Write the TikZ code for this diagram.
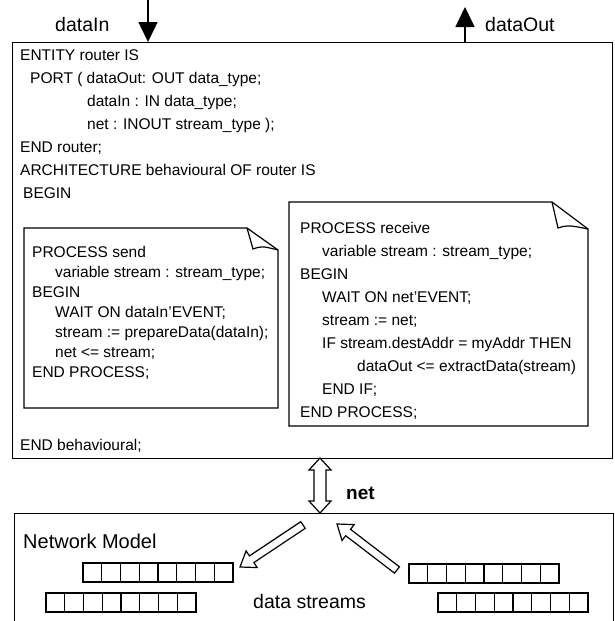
\documentclass[tikz,border=0pt]{standalone}
\usepackage{fontspec}
\setmainfont{Liberation Sans}
\usetikzlibrary{calc,arrows.meta}
\newcommand\blockarrow[3]{% #1 tail, #2 tip, #3 style
  \draw[#3] ($(#1)!4pt!90:(#2)$) -- ($($(#2)!14pt!(#1)$)!4pt!-90:(#1)$) -- ($($(#2)!14pt!(#1)$)!10pt!-90:(#1)$) -- (#2)
    -- ($($(#2)!14pt!(#1)$)!10pt!90:(#1)$) -- ($($(#2)!14pt!(#1)$)!4pt!90:(#1)$) -- ($(#1)!4pt!-90:(#2)$) -- cycle;}
\newcommand\streamrow[2]{%
  \foreach \i in {0,...,7} \draw[cell] ({#1+\i*18.75},#2) rectangle ++(18.75,19);}
\begin{document}
\begin{tikzpicture}[x=1pt,y=-1pt,
  code/.style={anchor=base west, inner sep=0, font=\fontsize{15.5}{18}\selectfont},
  lbl/.style={anchor=base west, inner sep=0, font=\fontsize{19.5}{23}\selectfont},
  box/.style={draw, line width=1pt},
  note/.style={draw, line width=1.2pt, line join=miter},
  cell/.style={draw, line width=1.2pt},
  blk/.style={draw, line width=1.2pt, fill=white, line join=miter},
  sig/.style={-{Triangle[length=20pt,width=19pt]}, line width=1.5pt}]
\useasboundingbox (0,0) rectangle (614,621);

% main entity box
\node[box, anchor=north west, minimum width=600pt, minimum height=416pt, inner sep=0] (entity) at (12,42) {};

% signals
\coordinate (inS) at (148,0);
\coordinate (outE) at (465,7);
\draw[sig] (inS) -- (inS |- entity.north);
\draw[sig] (outE |- entity.north) -- (outE);
\node[lbl] (lin) at (55,31) {dataIn};
\node[lbl] (lout) at (485,31) {dataOut};

% entity text
\node[code] (t1) at (20,60) {ENTITY router IS};
\node[code] (t2) at (30,83) {PORT ( dataOut: OUT data\_type;};
\node[code] (t3) at (87,106) {dataIn : IN data\_type;};
\node[code] (t4) at (87,129) {net : INOUT stream\_type );};
\node[code] (t5) at (20,152) {END router;};
\node[code] (t6) at (20,175) {ARCHITECTURE behavioural OF router IS};
\node[code] (t7) at (23,198) {BEGIN};
\node[code] (t8) at (20,450) {END behavioural;};

% send process note
\coordinate (s1) at (24,228);
\coordinate (s2) at (247,228);
\coordinate (s3) at (278,250);
\coordinate (s4) at (278,408);
\coordinate (s5) at (24,408);
\draw[note] (s1) -- (s2) -- (s3) -- (s4) -- (s5) -- cycle;
\draw[note] (s2) -- (253,249) .. controls (262,246) .. (s3);
\node[code] (p1) at (32,257) {PROCESS send};
\node[code] (p2) at (55,277) {variable stream : stream\_type;};
\node[code] (p3) at (32,297) {BEGIN};
\node[code] (p4) at (55,317) {WAIT ON dataIn'EVENT;};
\node[code] (p5) at (55,337) {stream := prepareData(dataIn);};
\node[code] (p6) at (55,357) {net <= stream;};
\node[code] (p7) at (32,377) {END PROCESS;};

% receive process note
\coordinate (r1) at (289,202);
\coordinate (r2) at (552,202);
\coordinate (r3) at (588,229);
\coordinate (r4) at (588,426);
\coordinate (r5) at (289,426);
\draw[note] (r1) -- (r2) -- (r3) -- (r4) -- (r5) -- cycle;
\draw[note] (r2) -- (558,228) .. controls (568,225) .. (r3);
\node[code] (q1) at (300,233) {PROCESS receive};
\node[code] (q2) at (322,256) {variable stream : stream\_type;};
\node[code] (q3) at (300,279) {BEGIN};
\node[code] (q4) at (322,302) {WAIT ON net'EVENT;};
\node[code] (q5) at (322,325) {stream := net;};
\node[code] (q6) at (322,348) {IF stream.destAddr = myAddr THEN};
\node[code] (q7) at (357,371) {dataOut <= extractData(stream)};
\node[code] (q8) at (322,394) {END IF;};
\node[code] (q9) at (300,417) {END PROCESS;};

% network model box (open at the bottom, runs past the picture)
\coordinate (nw) at (14,513);
\coordinate (ne) at (613,513);
\draw[box] (14,630) -- (nw) -- (ne) -- (613,630);

% net double arrow
\coordinate (na) at (320,458);
\coordinate (nb) at (320,513);
\draw[blk] (na) -- ($(na)+(11,12)$) -- ($(na)+(6,12)$) -- ($(nb)+(6,-12)$) -- ($(nb)+(11,-12)$) -- (nb)
  -- ($(nb)+(-11,-12)$) -- ($(nb)+(-6,-12)$) -- ($(na)+(-6,12)$) -- ($(na)+(-11,12)$) -- cycle;
\node[anchor=base west, inner sep=0, font=\fontsize{19}{22}\selectfont\bfseries] (netl) at (346,499) {net};

\node[anchor=base west, inner sep=0, font=\fontsize{20}{24}\selectfont] (nm) at (23,548) {Network Model};
\node[lbl] (ds) at (253,608) {data streams};

% block arrows
\coordinate (a1t) at (303,525);
\coordinate (a1h) at (240,567);
\coordinate (a2t) at (397,570);
\coordinate (a2h) at (337,524);
\blockarrow{a1t}{a1h}{blk}
\blockarrow{a2t}{a2h}{blk}

% stream rows
\streamrow{83}{563}
\streamrow{46}{593}
\streamrow{409}{564}
\streamrow{438}{593}
\end{tikzpicture}
\end{document}
